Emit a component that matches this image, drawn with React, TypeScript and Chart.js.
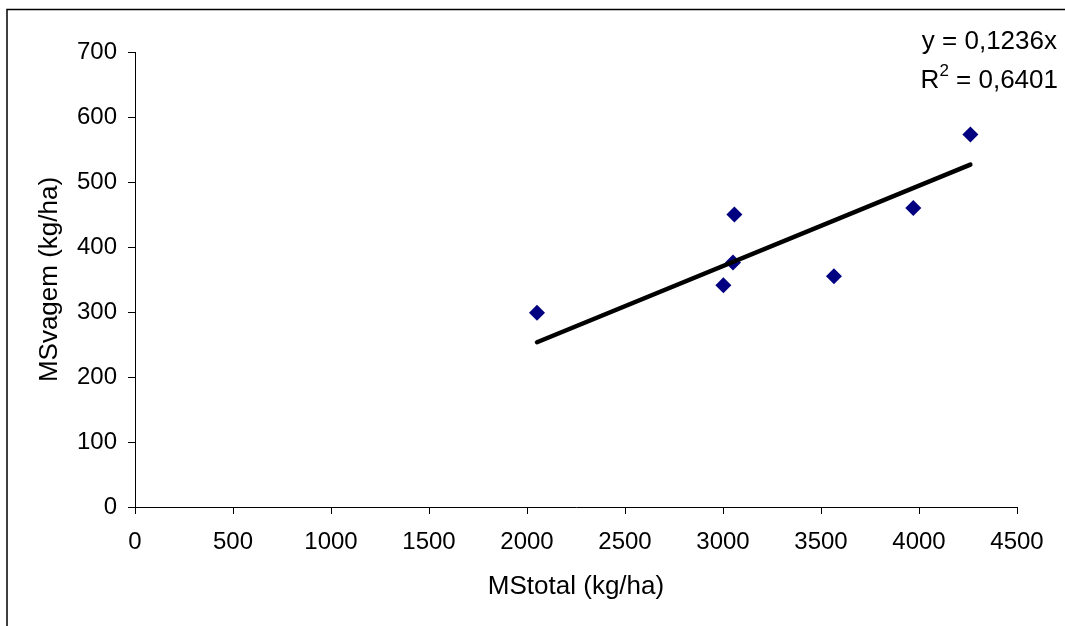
import React, { useEffect, useRef } from 'react';
import { Chart, registerables } from 'chart.js';

Chart.register(...registerables);

// Data
const MS_TOTAL = [2051, 3058, 3051, 3002, 3566, 3971, 4262]; // kg/ha (x)
const MS_VAGEM = [299, 450, 376, 341, 355, 460, 573]; // kg/ha (y)
const TREND_SLOPE = 0.1236; // linear trend through origin
const EQUATION_TEXT = 'y = 0,1236x';
const R2_TEXT = '0,6401';
const X_TITLE = 'MStotal (kg/ha)';
const Y_TITLE = 'MSvagem (kg/ha)';

const W = 1065;
const H = 626;
const FONT = '"Liberation Sans", Arial, sans-serif';

export default function App() {
  const ref = useRef<HTMLCanvasElement | null>(null);

  useEffect(() => {
    if (!ref.current) return;
    const points = MS_TOTAL.map((x, i) => ({ x, y: MS_VAGEM[i] }));
    const xMin = Math.min(...MS_TOTAL);
    const xMax = Math.max(...MS_TOTAL);
    const trend = [
      { x: xMin, y: TREND_SLOPE * xMin },
      { x: xMax, y: TREND_SLOPE * xMax },
    ];

    const overlay = {
      id: 'overlay',
      beforeDraw(chart: any) {
        const ctx = chart.ctx;
        ctx.save();
        ctx.fillStyle = '#fff';
        ctx.fillRect(0, 0, W, H);
        ctx.strokeStyle = '#000';
        ctx.lineWidth = 1.5;
        ctx.beginPath();
        ctx.moveTo(7, H + 5);
        ctx.lineTo(7, 9.5);
        ctx.lineTo(W + 5, 9.5);
        ctx.stroke();
        ctx.restore();
      },
      afterDraw(chart: any) {
        const ctx = chart.ctx;
        ctx.save();
        ctx.fillStyle = '#000';
        ctx.textBaseline = 'alphabetic';
        ctx.textAlign = 'right';
        ctx.font = `26px ${FONT}`;
        ctx.fillText(EQUATION_TEXT, 1057, 49);
        const rest = ' = ' + R2_TEXT;
        ctx.fillText(rest, 1058, 88);
        const restW = ctx.measureText(rest).width;
        ctx.font = `17px ${FONT}`;
        const supW = ctx.measureText('2').width;
        ctx.fillText('2', 1058 - restW, 76);
        ctx.font = `26px ${FONT}`;
        ctx.fillText('R', 1058 - restW - supW, 88);
        ctx.restore();
      },
    };

    const chart = new Chart(ref.current, {
      type: 'scatter',
      data: {
        datasets: [
          {
            label: 'trend',
            data: trend,
            showLine: true,
            borderColor: '#000',
            borderWidth: 4.5,
            borderCapStyle: 'round',
            pointRadius: 0,
            order: 0,
          },
          {
            label: 'MSvagem',
            data: points,
            pointStyle: 'rectRot',
            pointRadius: 8,
            backgroundColor: '#000080',
            borderColor: '#000080',
            borderWidth: 0,
            order: 1,
          },
        ],
      },
      options: {
        responsive: false,
        animation: false,
        devicePixelRatio: 1,
        layout: { padding: { top: 52, right: 48, left: 0, bottom: 0 } },
        plugins: {
          legend: { display: false },
          tooltip: { enabled: false },
        },
        scales: {
          x: {
            type: 'linear',
            min: 0,
            max: 4500,
            afterFit: (s: any) => {
              s.height = H - 507;
            },
            ticks: {
              stepSize: 500,
              color: '#000',
              font: { family: FONT, size: 24 },
              padding: 14,
              maxRotation: 0,
              autoSkip: false,
              callback: (v: any) => String(v),
            },
            grid: {
              drawOnChartArea: false,
              drawTicks: true,
              tickLength: 7,
              color: '#000',
            },
            border: { color: '#000', width: 1 },
            title: {
              display: true,
              text: X_TITLE,
              color: '#000',
              font: { family: FONT, size: 26 },
              padding: { top: 24, bottom: 24 },
            },
          },
          y: {
            type: 'linear',
            min: 0,
            max: 700,
            afterFit: (s: any) => {
              s.width = 135;
            },
            ticks: {
              stepSize: 100,
              color: '#000',
              font: { family: FONT, size: 24 },
              padding: 11,
              callback: (v: any) => String(v),
            },
            grid: {
              drawOnChartArea: false,
              drawTicks: true,
              tickLength: 7,
              color: '#000',
            },
            border: { color: '#000', width: 1 },
            title: {
              display: true,
              text: Y_TITLE,
              color: '#000',
              font: { family: FONT, size: 26 },
              padding: { top: 34, bottom: 34 },
            },
          },
        },
      },
      plugins: [overlay],
    } as any);

    return () => chart.destroy();
  }, []);

  return (
    <div style={{ position: 'fixed', left: 0, top: 0, width: W, height: H, background: '#fff' }}>
      <canvas ref={ref} width={W} height={H} style={{ width: W, height: H, display: 'block' }} />
    </div>
  );
}
